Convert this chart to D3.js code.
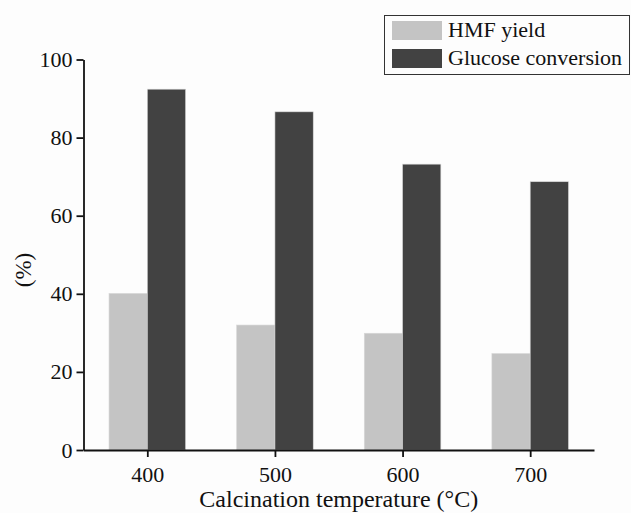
<!DOCTYPE html>
<html>
<head>
<meta charset="utf-8">
<script src="https://cdn.jsdelivr.net/npm/d3@7"></script>
<style>
  html, body { margin: 0; padding: 0; background: #fdfdfd; }
  svg { display: block; }
</style>
</head>
<body>
<script>
// Calcination temperature (°C)
const temperatures = [400, 500, 600, 700];
// HMF yield (%)
const hmfYield = [40.1, 32.0, 29.9, 24.7];
// Glucose conversion (%)
const glucoseConversion = [92.4, 86.6, 73.2, 68.7];
const seriesNames = ["HMF yield", "Glucose conversion"];
const seriesColors = ["#c4c4c4", "#424242"];
const yTicks = [0, 20, 40, 60, 80, 100];

const W = 631, H = 513;
const serif = '"Liberation Serif"';
const ink = "#111";
const svg = d3.select("body").append("svg").attr("width", W).attr("height", H);

const x = d3.scaleLinear().domain([350, 750]).range([83.5, 594]);
const y = d3.scaleLinear().domain([0, 100]).range([450, 59.5]);
const barW = x(430) - x(400);

const series = [hmfYield, glucoseConversion];
series.forEach((vals, si) => {
  svg.append("g").selectAll("rect")
    .data(temperatures.map((t, i) => ({ t, v: vals[i] })))
    .join("rect")
    .attr("x", d => si === 0 ? x(d.t) - barW : x(d.t))
    .attr("y", d => y(d.v))
    .attr("width", barW)
    .attr("height", d => y(0) - y(d.v))
    .attr("fill", seriesColors[si])
    .attr("stroke", "#d8d8d8")
    .attr("stroke-width", 0.6);
});

// Axes
const xAxis = svg.append("g")
  .attr("transform", `translate(0,${y(0)})`)
  .call(d3.axisBottom(x).tickValues(temperatures).tickSize(7).tickSizeOuter(0).tickPadding(9));
const yAxis = svg.append("g")
  .attr("transform", `translate(${x(350)},0)`)
  .call(d3.axisLeft(y).tickValues(yTicks).tickSize(7).tickSizeOuter(0).tickPadding(4));

[xAxis, yAxis].forEach(g => {
  g.select(".domain").attr("stroke", ink).attr("stroke-width", 1.8);
  g.selectAll(".tick line").attr("stroke", ink).attr("stroke-width", 1.8);
  g.selectAll(".tick text")
    .style("font-family", serif)
    .style("font-size", "22px")
    .attr("fill", ink);
});

// Axis titles
svg.append("text")
  .attr("x", x(550)).attr("y", 507)
  .attr("text-anchor", "middle")
  .style("font-family", serif).style("font-size", "24px")
  .attr("fill", ink)
  .text("Calcination temperature (°C)");

svg.append("text")
  .attr("transform", "translate(31,270) rotate(-90)")
  .attr("text-anchor", "middle")
  .style("font-family", serif).style("font-size", "23px")
  .attr("fill", ink)
  .text("(%)");

// Legend
const lg = svg.append("g");
lg.append("rect")
  .attr("x", 384.5).attr("y", 15.5).attr("width", 245).attr("height", 59)
  .attr("fill", "#fdfdfd").attr("stroke", "#333").attr("stroke-width", 1);
seriesNames.forEach((name, i) => {
  lg.append("rect")
    .attr("x", 392).attr("y", 21 + i * 28)
    .attr("width", 50).attr("height", 19)
    .attr("fill", seriesColors[i]);
  lg.append("text")
    .attr("x", 448).attr("y", 37 + i * 28)
    .style("font-family", serif).style("font-size", "22px")
    .attr("fill", ink)
    .text(name);
});
</script>
</body>
</html>
